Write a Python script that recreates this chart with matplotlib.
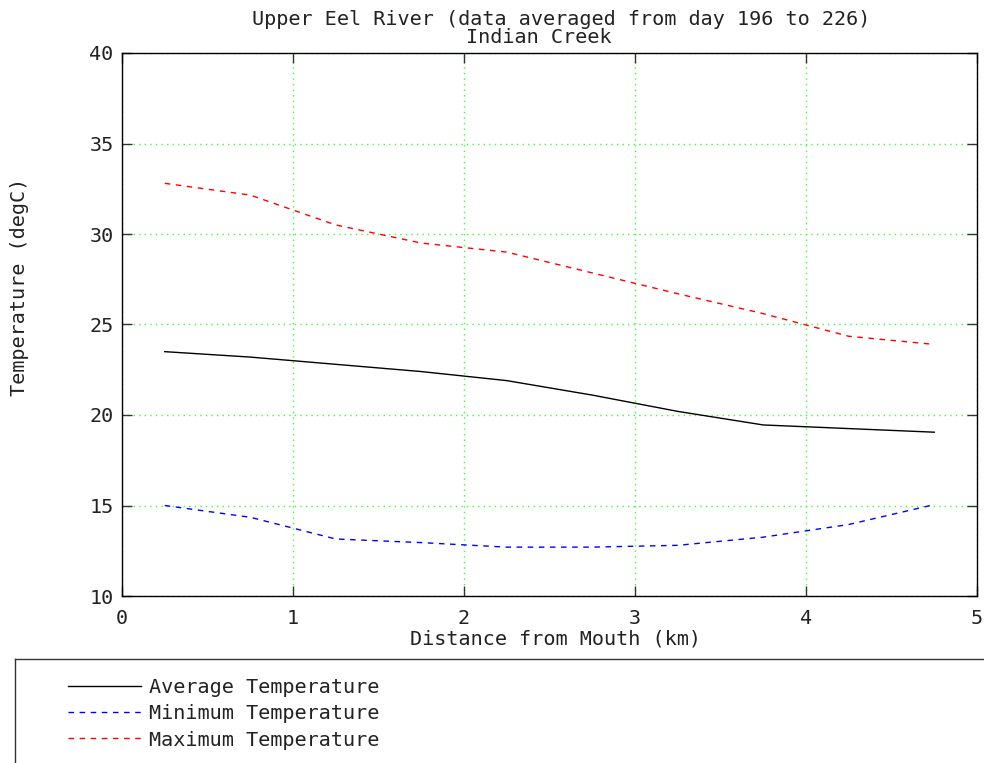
import matplotlib
matplotlib.use("Agg")
import matplotlib.pyplot as plt
from matplotlib.lines import Line2D

plt.rcParams['font.family'] = ['DejaVu Sans Mono']

# distance from mouth (km) and temperatures (degC)
distance_km = [0.25, 0.75, 1.25, 1.75, 2.25, 2.75, 3.25, 3.75, 4.25, 4.75]
avg_temp = [23.5, 23.2, 22.8, 22.4, 21.9, 21.1, 20.2, 19.45, 19.25, 19.05]
min_temp = [15.0, 14.35, 13.15, 12.95, 12.7, 12.7, 12.8, 13.25, 13.95, 15.05]
max_temp = [32.8, 32.15, 30.5, 29.5, 29.0, 27.85, 26.7, 25.6, 24.35, 23.9]

labels = ["Average Temperature", "Minimum Temperature", "Maximum Temperature"]
title_lines = ["Upper Eel River (data averaged from day 196 to 226)", "Indian Creek"]

txt = '#222222'
fs = 14.5

fig = plt.figure(figsize=(9.84, 7.63), dpi=100)
ax = fig.add_axes([122/984, 1 - 596/763, 855/984, 543/763])

l1, = ax.plot(distance_km, avg_temp, color='black', lw=1)
l2, = ax.plot(distance_km, min_temp, color='blue', lw=1, dashes=(4, 4))
l3, = ax.plot(distance_km, max_temp, color='red', lw=1, dashes=(4, 4))

ax.set_xlim(0, 5)
ax.set_ylim(10, 40)
ax.set_xticks([0, 1, 2, 3, 4, 5])
ax.set_yticks([10, 15, 20, 25, 30, 35, 40])
ax.grid(True, color='#33ff33', linestyle=(0, (1, 3)), lw=1)
ax.tick_params(direction='in', length=7, width=1, top=True, right=True,
               labelsize=fs, labelcolor=txt, color='#333333')
ax.tick_params(axis='x', pad=9)
ax.tick_params(axis='y', pad=6)
for s in ax.spines.values():
    s.set_linewidth(1)
    s.set_color('black')

fig.text(561/984, 1 - 25/763, title_lines[0], ha='center', va='baseline', fontsize=fs, color=txt)
fig.text(539/984, 1 - 43/763, title_lines[1], ha='center', va='baseline', fontsize=fs, color=txt)
fig.text(556/984, 1 - 639/763, "Distance from Mouth (km)", ha='center', va='center', fontsize=fs, color=txt)
fig.text(20/984, 1 - 287/763, "Temperature (degC)", ha='center', va='center', rotation=90, fontsize=fs, color=txt)

# legend box under the plot
lax = fig.add_axes([15/984, -0.05, 1.0, 1 - 659/763 + 0.05])
lax.set_xticks([])
lax.set_yticks([])
for s in lax.spines.values():
    s.set_linewidth(1)
    s.set_color('#333333')
handles = [Line2D([], [], color='black', lw=1),
           Line2D([], [], color='blue', lw=1, dashes=(4, 4)),
           Line2D([], [], color='red', lw=1, dashes=(4, 4))]
lax.legend(handles, labels, loc='upper left', bbox_to_anchor=(0.046, 0.92),
           frameon=False, fontsize=fs, handlelength=3.6, handletextpad=0.4,
           labelspacing=0.35, labelcolor=txt, borderaxespad=0)

fig.savefig("out.png", dpi=100)
